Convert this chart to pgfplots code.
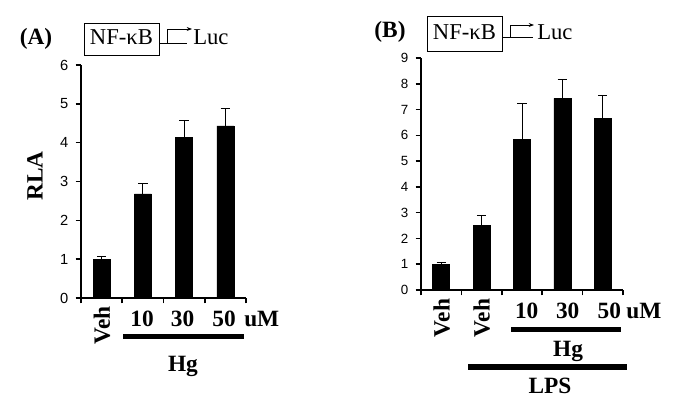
\documentclass[border=0pt]{standalone}
\usepackage{fontspec}
\setmainfont{Liberation Serif}
\setsansfont{Liberation Sans}
\usepackage{pgfplots}
\usepackage{pgfplotstable}
\pgfplotsset{compat=1.18}
\usetikzlibrary{arrows.meta}

\newcommand\labB{\fontsize{17.5}{20}\selectfont\bfseries}
\newcommand\labR{\fontsize{17}{20}\selectfont}

\pgfplotstableread{
x y e
0 1.00 0.06
1 2.68 0.27
2 4.13 0.45
3 4.43 0.46
}\dataA

\pgfplotstableread{
x y e
0 1.00 0.05
1 2.52 0.38
2 5.84 1.38
3 7.43 0.74
4 6.67 0.86
}\dataB

\pgfplotsset{panel/.style={
  scale only axis,
  axis x line=bottom, axis y line=left,
  axis line style={line width=1.5pt,-},
  tick align=outside, major tick length=4pt,
  tick style={line width=1.2pt,black},
  xticklabels={}, ymin=0,
  yticklabel={\pgfmathprintnumber[assume math mode=true]{\tick}},
  clip=false, anchor=south west,
}}

\begin{document}
\begin{tikzpicture}
\path[use as bounding box] (0,0) rectangle (510pt,305.25pt);

% Panel A
\begin{axis}[panel, at={(60.75pt,81.75pt)}, width=123.75pt, height=174.75pt,
  xmin=-0.5, xmax=3.5, xtick={-0.5,0.5,1.5,2.5,3.5},
  ymax=6, ytick={0,1,2,3,4,5,6},
  yticklabel style={font=\sffamily\fontsize{11}{13}\selectfont, xshift=-2pt},
  ]
\addplot[ybar, bar width=12.75pt, fill=black, draw=black,
  error bars/.cd, y dir=plus, y explicit,
  error bar style={line width=0.7pt,black},
  error mark options={rotate=90, mark size=3.5pt, line width=0.7pt}]
  table[x=x,y=y,y error=e]{\dataA};
\end{axis}

% Panel B
\begin{axis}[panel, at={(315.75pt,87.75pt)}, width=151.5pt, height=174pt,
  xmin=-0.5, xmax=4.5, xtick={-0.5,0.5,1.5,2.5,3.5,4.5},
  ymax=9, ytick={0,1,2,3,4,5,6,7,8,9},
  yticklabel style={font=\sffamily\fontsize{10}{12}\selectfont, xshift=-2pt},
  ]
\addplot[ybar, bar width=12.75pt, fill=black, draw=black,
  error bars/.cd, y dir=plus, y explicit,
  error bar style={line width=0.7pt,black},
  error mark options={rotate=90, mark size=3.5pt, line width=0.7pt}]
  table[x=x,y=y,y error=e]{\dataB};
\end{axis}

\begin{scope}[x=0.75pt,y=0.75pt]
% ---- Panel A annotations
\node[anchor=base, font=\labB, inner sep=0] at (36,362) {(A)};
\draw[line width=0.6pt] (84,384) rectangle (159,352);
\node[anchor=base, font=\labR, inner sep=0] at (121.5,362) {NF-κB};
\draw[line width=0.6pt] (159,364) -- (187,364);
\draw[line width=0.6pt, -{Stealth[length=4pt,width=3pt]}] (167,364) -- (167,378) -- (192,378);
\node[anchor=base west, font=\labR, inner sep=0] at (193,362) {Luc};
\node[rotate=90, font=\labB] at (35,231) {RLA};
\node[rotate=90, font=\labB, inner sep=0] at (102,81.5) {Veh};
\node[anchor=base, font=\labB, inner sep=0] at (142,80.3) {10};
\node[anchor=base, font=\labB, inner sep=0] at (182.5,80.3) {30};
\node[anchor=base, font=\labB, inner sep=0] at (224,80.3) {50};
\node[anchor=base west, font=\labB, inner sep=0] at (244,80.3) {uM};
\fill (123,73) rectangle (244,67.7);
\node[anchor=base, font=\labB, inner sep=0] at (183,35.3) {Hg};

% ---- Panel B annotations
\node[anchor=base, font=\labB, inner sep=0] at (390,369.7) {(B)};
\draw[line width=0.6pt] (427,391) rectangle (502,356);
\node[anchor=base, font=\labR, inner sep=0] at (464.5,367.7) {NF-κB};
\draw[line width=0.6pt] (502,369.3) -- (533,369.3);
\draw[line width=0.6pt, -{Stealth[length=4pt,width=3pt]}] (510,369.3) -- (510,382) -- (534,382);
\node[anchor=base west, font=\labR, inner sep=0] at (537,367.7) {Luc};
\node[rotate=90, font=\labB, inner sep=0] at (441.7,89) {Veh};
\node[rotate=90, font=\labB, inner sep=0] at (481.7,89) {Veh};
\node[anchor=base, font=\labB, inner sep=0] at (526.7,89) {10};
\node[anchor=base, font=\labB, inner sep=0] at (567.7,89) {30};
\node[anchor=base, font=\labB, inner sep=0] at (609.3,89) {50};
\node[anchor=base west, font=\labB, inner sep=0] at (626,89) {uM};
\fill (510.7,80.3) rectangle (621,75.3);
\node[anchor=base, font=\labB, inner sep=0] at (568,50.3) {Hg};
\fill (468,43) rectangle (627,37);
\node[anchor=base, font=\labB, inner sep=0] at (550,13.7) {LPS};
\end{scope}
\end{tikzpicture}
\end{document}
